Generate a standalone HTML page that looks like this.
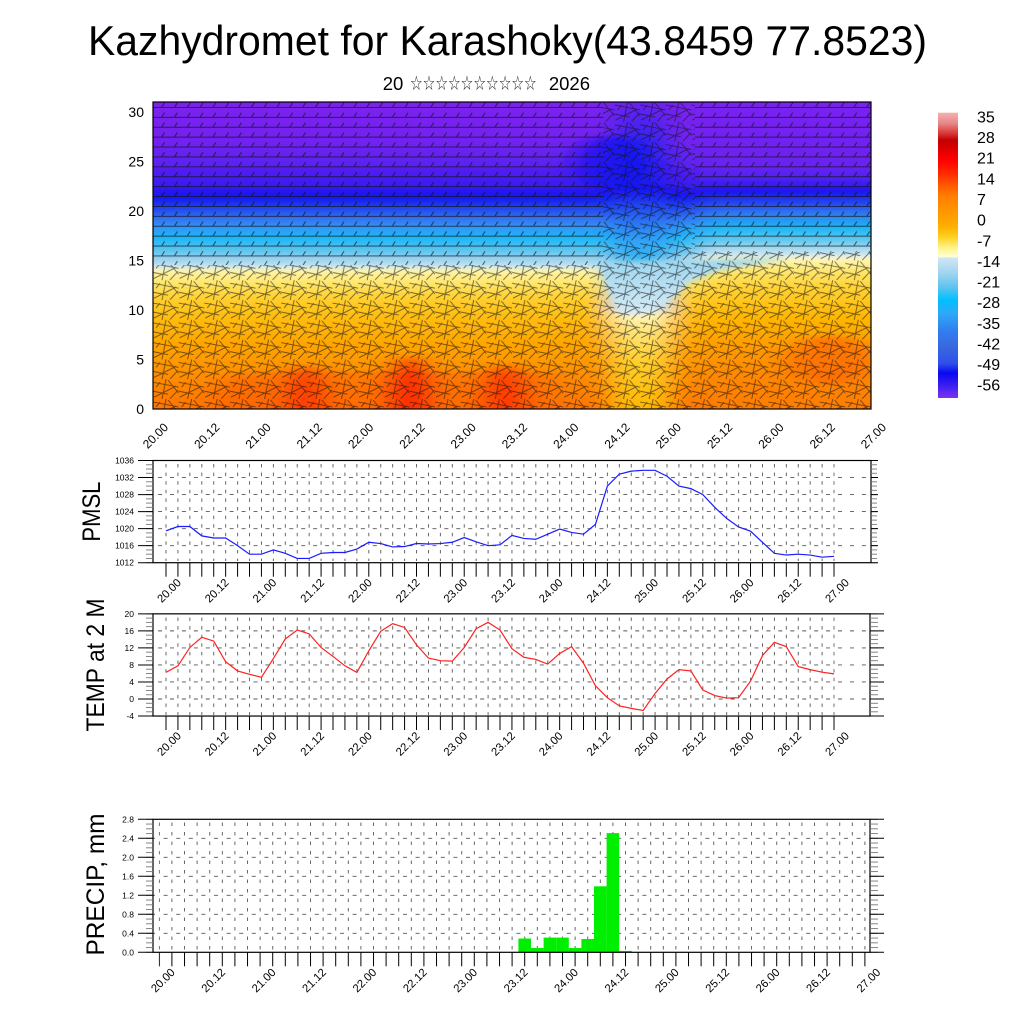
<!DOCTYPE html>
<html><head><meta charset="utf-8"><style>html,body{margin:0;padding:0;background:#fff}svg{display:block}</style></head>
<body>
<svg width="1024" height="1024" viewBox="0 0 1024 1024" xmlns="http://www.w3.org/2000/svg" font-family="'Liberation Sans', Arial, sans-serif">
<defs>
<linearGradient id="gL" gradientUnits="userSpaceOnUse" x1="0" y1="102" x2="0" y2="409">
<stop offset="0" stop-color="#7c24ee"/><stop offset="0.124" stop-color="#7222f0"/><stop offset="0.205" stop-color="#5a20f0"/>
<stop offset="0.27" stop-color="#3a1cf0"/><stop offset="0.309" stop-color="#1414f0"/><stop offset="0.342" stop-color="#2040ec"/>
<stop offset="0.378" stop-color="#3070f0"/><stop offset="0.41" stop-color="#3098f8"/><stop offset="0.443" stop-color="#18b8f8"/>
<stop offset="0.482" stop-color="#58c4f0"/><stop offset="0.515" stop-color="#a0d4f0"/><stop offset="0.538" stop-color="#c8e6f4"/>
<stop offset="0.545" stop-color="#fff6b0"/><stop offset="0.586" stop-color="#ffe870"/><stop offset="0.638" stop-color="#ffd030"/>
<stop offset="0.704" stop-color="#ffbc10"/><stop offset="0.792" stop-color="#ffa400"/><stop offset="0.889" stop-color="#ff8e00"/>
<stop offset="1" stop-color="#ff7400"/>
</linearGradient>
<linearGradient id="gR" gradientUnits="userSpaceOnUse" x1="0" y1="102" x2="0" y2="409">
<stop offset="0" stop-color="#7a22f0"/><stop offset="0.205" stop-color="#6a22f0"/><stop offset="0.254" stop-color="#4a20f0"/>
<stop offset="0.293" stop-color="#1a14f0"/><stop offset="0.336" stop-color="#2850ec"/><stop offset="0.368" stop-color="#3080f0"/>
<stop offset="0.411" stop-color="#18b8f8"/><stop offset="0.45" stop-color="#60c8f0"/><stop offset="0.482" stop-color="#b0dcf2"/>
<stop offset="0.5" stop-color="#d0e8f4"/><stop offset="0.508" stop-color="#fff8c0"/><stop offset="0.547" stop-color="#ffe870"/>
<stop offset="0.612" stop-color="#ffd030"/><stop offset="0.71" stop-color="#ffb400"/><stop offset="0.808" stop-color="#ff9800"/>
<stop offset="0.906" stop-color="#ff8600"/><stop offset="1" stop-color="#ff7c00"/>
</linearGradient>
<linearGradient id="gM" gradientUnits="userSpaceOnUse" x1="0" y1="102" x2="0" y2="409">
<stop offset="0" stop-color="#6a24f0"/><stop offset="0.075" stop-color="#4a20f0"/><stop offset="0.156" stop-color="#2222f0"/>
<stop offset="0.287" stop-color="#1818f0"/><stop offset="0.368" stop-color="#2860f0"/><stop offset="0.45" stop-color="#30a0f8"/>
<stop offset="0.52" stop-color="#30b8f0"/><stop offset="0.596" stop-color="#88d0f0"/><stop offset="0.661" stop-color="#c0e2f4"/>
<stop offset="0.68" stop-color="#d8ecf4"/><stop offset="0.69" stop-color="#fff8c0"/><stop offset="0.74" stop-color="#ffe880"/>
<stop offset="0.84" stop-color="#ffd030"/><stop offset="1" stop-color="#ffb800"/>
</linearGradient>
<linearGradient id="gW" gradientUnits="userSpaceOnUse" x1="0" y1="256" x2="0" y2="314">
<stop offset="0" stop-color="#98d4f0"/><stop offset="1" stop-color="#d6eaf4"/>
</linearGradient>
<linearGradient id="gCB" gradientUnits="userSpaceOnUse" x1="0" y1="112.7" x2="0" y2="398">
<stop offset="0" stop-color="#f6b0b0"/><stop offset="0.037" stop-color="#e88888"/><stop offset="0.072" stop-color="#d83838"/>
<stop offset="0.096" stop-color="#c00000"/><stop offset="0.131" stop-color="#e00000"/><stop offset="0.166" stop-color="#ff0000"/>
<stop offset="0.212" stop-color="#ff2800"/><stop offset="0.247" stop-color="#ff5000"/><stop offset="0.294" stop-color="#ff8000"/>
<stop offset="0.353" stop-color="#ff9800"/><stop offset="0.4" stop-color="#ffb000"/><stop offset="0.435" stop-color="#ffd020"/>
<stop offset="0.47" stop-color="#fff080"/><stop offset="0.505" stop-color="#ffffd8"/><stop offset="0.509" stop-color="#d0e6f4"/>
<stop offset="0.563" stop-color="#a0d4ee"/><stop offset="0.61" stop-color="#60c4f0"/><stop offset="0.657" stop-color="#00c0ff"/>
<stop offset="0.703" stop-color="#30a8f8"/><stop offset="0.762" stop-color="#3080f0"/><stop offset="0.82" stop-color="#3868e0"/>
<stop offset="0.878" stop-color="#3050e8"/><stop offset="0.913" stop-color="#0808f0"/><stop offset="0.96" stop-color="#4020f0"/>
<stop offset="1" stop-color="#8030f0"/>
</linearGradient>
<clipPath id="cTop"><rect x="153" y="102" width="718" height="307"/></clipPath>
<filter id="bl" x="-10%" y="-10%" width="120%" height="120%"><feGaussianBlur stdDeviation="13 2"/></filter>
<filter id="bl2" x="-10%" y="-10%" width="120%" height="120%"><feGaussianBlur stdDeviation="3"/></filter>
<pattern id="pA" x="153" y="102" width="12.82" height="9.9" patternUnits="userSpaceOnUse">
<path d="M0 5.5H12.82M8.5 5.5L11.5 0.8" stroke="#111" stroke-width="1" fill="none"/></pattern>
<pattern id="pB" x="153" y="102" width="25.64" height="19.8" patternUnits="userSpaceOnUse">
<path d="M0 3L25.64 8M1 18L23 7M9 19.8L13 0M0 12L15 15M15 1L25.64 14M17 19.5L25 11M3 8L7 3" stroke="#111" stroke-width="0.9" fill="none"/></pattern>
<pattern id="xt1" x="165.5" y="0" width="11.929" height="30" patternUnits="userSpaceOnUse"><rect x="0" y="0" width="1" height="30" fill="#000"/></pattern>
<pattern id="xt2" x="158.8" y="0" width="12.6" height="30" patternUnits="userSpaceOnUse"><rect x="0" y="0" width="1" height="30" fill="#000"/></pattern>
<pattern id="vgP" x="165.55" y="464" width="11.929" height="8.6" patternUnits="userSpaceOnUse"><rect x="0" y="0" width="0.9" height="3.5" fill="#555"/></pattern>
<pattern id="vgT" x="165.55" y="617.5" width="11.929" height="8.6" patternUnits="userSpaceOnUse"><rect x="0" y="0" width="0.9" height="3.5" fill="#555"/></pattern>
<pattern id="vgR" x="158.85" y="822.5" width="12.6" height="9.5" patternUnits="userSpaceOnUse"><rect x="0" y="0" width="0.9" height="3.5" fill="#555"/></pattern>
<pattern id="mtP" x="0" y="460.05" width="20" height="4.258" patternUnits="userSpaceOnUse"><rect x="0" y="0" width="20" height="0.9" fill="#777"/></pattern>
<pattern id="mtT" x="0" y="613.4" width="20" height="4.258" patternUnits="userSpaceOnUse"><rect x="0" y="0" width="20" height="0.9" fill="#777"/></pattern>
<pattern id="mtR" x="0" y="818.85" width="20" height="4.75" patternUnits="userSpaceOnUse"><rect x="0" y="0" width="20" height="0.9" fill="#777"/></pattern>
</defs>

<rect width="1024" height="1024" fill="#fff"/>

<!-- Titles -->
<text x="507.5" y="55" font-size="42" text-anchor="middle" textLength="839" lengthAdjust="spacingAndGlyphs">Kazhydromet for Karashoky(43.8459 77.8523)</text>
<text x="382.7" y="90" font-size="18.5">20</text>
<text x="410" y="90" font-size="20" font-family="'DejaVu Sans', sans-serif" fill="#222" textLength="126.7" lengthAdjust="spacingAndGlyphs">☆☆☆☆☆☆☆☆☆☆</text>
<text x="590" y="90" font-size="18.5" text-anchor="end">2026</text>

<!-- Top panel -->
<g clip-path="url(#cTop)">
 <g filter="url(#bl)">
  <rect x="120" y="80" width="790" height="350" fill="url(#gL)"/>
  <rect x="250" y="372" width="310" height="50" fill="#ff6000" opacity="0.45"/>
  <ellipse cx="240" cy="400" rx="30" ry="25" fill="#ff6000" opacity="0.6"/>
  <ellipse cx="305" cy="405" rx="22" ry="40" fill="#ff3c00"/>
  <ellipse cx="410" cy="400" rx="22" ry="45" fill="#ff2800"/>
  <ellipse cx="505" cy="402" rx="22" ry="38" fill="#ff3800"/>
  <rect x="700" y="80" width="210" height="350" fill="url(#gR)"/>
  <rect x="612" y="80" width="56" height="350" fill="url(#gM)"/>
  <ellipse cx="610" cy="163" rx="38" ry="28" fill="#1010f0" opacity="0.7"/>
  <ellipse cx="830" cy="360" rx="45" ry="25" fill="#ff6800" opacity="0.7"/>
 </g>
 <g filter="url(#bl2)">
  <polygon points="598,262 790,258 720,270 690,282 662,308 640,314 620,314 612,298 604,280" fill="url(#gW)"/>
 </g>
 <rect x="153" y="102" width="450" height="163" fill="url(#pA)" opacity="0.68"/>
 <rect x="695" y="102" width="176" height="150" fill="url(#pA)" opacity="0.68"/>
 <rect x="153" y="265" width="718" height="144" fill="url(#pB)" opacity="0.6"/>
 <rect x="603" y="102" width="92" height="163" fill="url(#pB)" opacity="0.6"/>
 <rect x="695" y="252" width="176" height="13" fill="url(#pB)" opacity="0.6"/>
</g>
<rect x="153" y="102" width="718" height="307" fill="none" stroke="#000" stroke-width="1.2"/>
<g font-size="14" text-anchor="end">
<text x="144" y="414">0</text><text x="144" y="364.5">5</text><text x="144" y="315">10</text>
<text x="144" y="265.5">15</text><text x="144" y="216">20</text><text x="144" y="166.5">25</text><text x="144" y="117">30</text>
</g>
<g font-size="12" text-anchor="end">
<text transform="translate(169,428) rotate(-45)">20.00</text>
<text transform="translate(220.3,428) rotate(-45)">20.12</text>
<text transform="translate(271.6,428) rotate(-45)">21.00</text>
<text transform="translate(322.9,428) rotate(-45)">21.12</text>
<text transform="translate(374.2,428) rotate(-45)">22.00</text>
<text transform="translate(425.5,428) rotate(-45)">22.12</text>
<text transform="translate(476.7,428) rotate(-45)">23.00</text>
<text transform="translate(528,428) rotate(-45)">23.12</text>
<text transform="translate(579.3,428) rotate(-45)">24.00</text>
<text transform="translate(630.6,428) rotate(-45)">24.12</text>
<text transform="translate(681.9,428) rotate(-45)">25.00</text>
<text transform="translate(733.2,428) rotate(-45)">25.12</text>
<text transform="translate(784.5,428) rotate(-45)">26.00</text>
<text transform="translate(835.8,428) rotate(-45)">26.12</text>
<text transform="translate(887,428) rotate(-45)">27.00</text>
</g>

<!-- Colorbar -->
<rect x="938" y="112.7" width="20" height="285.3" fill="url(#gCB)"/>
<g font-size="16">
<text x="977" y="122.4">35</text><text x="977" y="143">28</text><text x="977" y="163.7">21</text>
<text x="977" y="184.3">14</text><text x="977" y="205">7</text><text x="977" y="225.6">0</text>
<text x="977" y="246.3">-7</text><text x="977" y="266.9">-14</text><text x="977" y="287.5">-21</text>
<text x="977" y="308.2">-28</text><text x="977" y="328.8">-35</text><text x="977" y="349.5">-42</text>
<text x="977" y="370.1">-49</text><text x="977" y="390.7">-56</text>
</g>

<!-- PMSL panel -->
<rect x="165.5" y="462" width="669" height="99" fill="url(#vgP)"/>
<g stroke="#555" stroke-width="0.9" stroke-dasharray="4 7.929" stroke-dashoffset="6.86">
<line x1="153" y1="545.67" x2="871" y2="545.67"/><line x1="153" y1="528.64" x2="871" y2="528.64"/>
<line x1="153" y1="511.6" x2="871" y2="511.6"/><line x1="153" y1="494.57" x2="871" y2="494.57"/>
<line x1="153" y1="477.54" x2="871" y2="477.54"/>
</g>
<polyline fill="none" stroke="#1a1aff" stroke-width="1.2" vector-effect="non-scaling-stroke" transform="translate(166 562.7) scale(11.929 -4.258)"
points="0,7.5 1,8.5 2,8.5 3,6.3 4,5.8 5,5.8 6,4 7,2 8,2 9,3 10,2.2 11,1 12,1 13,2.2 14,2.4 15,2.4 16,3.2 17,4.8 18,4.5 19,3.7 20,3.8 21,4.5 22,4.4 23,4.5 24,4.8 25,5.9 26,4.9 27,4 28,4.2 29,6.4 30,5.7 31,5.5 32,6.7 33,7.9 34,7.1 35,6.7 36,9 37,18 38,20.8 39,21.5 40,21.7 41,21.7 42,20.3 43,18 44,17.4 45,16 46,13 47,10.4 48,8.4 49,7.4 50,4.8 51,2.2 52,1.8 53,2 54,1.8 55,1.3 56,1.5"/>
<rect x="153" y="460.5" width="718" height="102.2" fill="none" stroke="#000" stroke-width="1.2"/>
<rect x="165.5" y="562.7" width="669" height="14" fill="url(#xt1)"/>
<rect x="146" y="460" width="7" height="103.5" fill="url(#mtP)"/>
<rect x="871" y="460" width="6" height="103.5" fill="url(#mtP)"/>
<g stroke="#000" stroke-width="1">
<path d="M138 562.7H153M138 545.67H153M138 528.64H153M138 511.6H153M138 494.57H153M138 477.54H153M138 460.5H153"/>
<path d="M871 562.7H878M871 545.67H878M871 528.64H878M871 511.6H878M871 494.57H878M871 477.54H878M871 460.5H878"/>
</g>
<g font-size="8.5" text-anchor="end">
<text x="134" y="565.7">1012</text><text x="134" y="548.7">1016</text><text x="134" y="531.6">1020</text>
<text x="134" y="514.6">1024</text><text x="134" y="497.6">1028</text><text x="134" y="480.5">1032</text><text x="134" y="463.5">1036</text>
</g>
<text transform="translate(100,511.6) rotate(-90)" font-size="25" text-anchor="middle" textLength="60" lengthAdjust="spacingAndGlyphs">PMSL</text>
<g font-size="11.3" text-anchor="end">
<text transform="translate(181.8,583.3) rotate(-45)">20.00</text>
<text transform="translate(229.5,583.3) rotate(-45)">20.12</text>
<text transform="translate(277.2,583.3) rotate(-45)">21.00</text>
<text transform="translate(325,583.3) rotate(-45)">21.12</text>
<text transform="translate(372.7,583.3) rotate(-45)">22.00</text>
<text transform="translate(420.4,583.3) rotate(-45)">22.12</text>
<text transform="translate(468.1,583.3) rotate(-45)">23.00</text>
<text transform="translate(515.8,583.3) rotate(-45)">23.12</text>
<text transform="translate(563.5,583.3) rotate(-45)">24.00</text>
<text transform="translate(611.2,583.3) rotate(-45)">24.12</text>
<text transform="translate(659,583.3) rotate(-45)">25.00</text>
<text transform="translate(706.7,583.3) rotate(-45)">25.12</text>
<text transform="translate(754.4,583.3) rotate(-45)">26.00</text>
<text transform="translate(802.1,583.3) rotate(-45)">26.12</text>
<text transform="translate(849.8,583.3) rotate(-45)">27.00</text>
</g>

<!-- TEMP panel -->
<rect x="165.5" y="615" width="669" height="100" fill="url(#vgT)"/>
<g stroke="#555" stroke-width="0.9" stroke-dasharray="4 7.929" stroke-dashoffset="6.86">
<line x1="153" y1="699" x2="870" y2="699"/><line x1="153" y1="681.97" x2="870" y2="681.97"/>
<line x1="153" y1="664.94" x2="870" y2="664.94"/><line x1="153" y1="647.9" x2="870" y2="647.9"/>
<line x1="153" y1="630.87" x2="870" y2="630.87"/>
</g>
<polyline fill="none" stroke="#ff2020" stroke-width="1.2" vector-effect="non-scaling-stroke" transform="translate(166 699) scale(11.929 -4.258)"
points="0,6.25 1,7.8 2,12.1 3,14.5 4,13.6 5,8.75 6,6.6 7,5.8 8,5.1 9,9.5 10,14.1 11,16.2 12,15.3 13,12.1 14,10 15,7.8 16,6.25 17,11.3 18,15.9 19,17.7 20,16.8 21,12.7 22,9.6 23,9 24,8.9 25,12.1 26,16.5 27,18 28,16.2 29,11.8 30,9.8 31,9.3 32,8.2 33,10.7 34,12.3 35,8.4 36,3.1 37,0.3 38,-1.6 39,-2.2 40,-2.7 41,1.3 42,4.7 43,6.9 44,6.6 45,2.1 46,0.8 47,0.2 48,0.3 49,4.2 50,10.2 51,13.3 52,12.3 53,7.6 54,6.9 55,6.3 56,5.9"/>
<rect x="153" y="613.84" width="717" height="102.2" fill="none" stroke="#000" stroke-width="1.2"/>
<rect x="165.5" y="716" width="669" height="14" fill="url(#xt1)"/>
<rect x="146" y="613" width="7" height="103.5" fill="url(#mtT)"/>
<rect x="870" y="613" width="8" height="103.5" fill="url(#mtT)"/>
<g stroke="#000" stroke-width="1">
<path d="M138 716.03H153M138 699H153M138 681.97H153M138 664.94H153M138 647.9H153M138 630.87H153M138 613.84H153"/>
<path d="M870 716.03H884M870 699H884M870 681.97H884M870 664.94H884M870 647.9H884M870 630.87H884M870 613.84H884"/>
</g>
<g font-size="8.5" text-anchor="end">
<text x="134" y="719">-4</text><text x="134" y="702">0</text><text x="134" y="685">4</text>
<text x="134" y="668">8</text><text x="134" y="651">12</text><text x="134" y="633.9">16</text><text x="134" y="616.8">20</text>
</g>
<text transform="translate(104,665) rotate(-90)" font-size="25" text-anchor="middle" textLength="133" lengthAdjust="spacingAndGlyphs">TEMP at 2 M</text>
<g font-size="11.3" text-anchor="end">
<text transform="translate(181.8,736.5) rotate(-45)">20.00</text>
<text transform="translate(229.5,736.5) rotate(-45)">20.12</text>
<text transform="translate(277.2,736.5) rotate(-45)">21.00</text>
<text transform="translate(325,736.5) rotate(-45)">21.12</text>
<text transform="translate(372.7,736.5) rotate(-45)">22.00</text>
<text transform="translate(420.4,736.5) rotate(-45)">22.12</text>
<text transform="translate(468.1,736.5) rotate(-45)">23.00</text>
<text transform="translate(515.8,736.5) rotate(-45)">23.12</text>
<text transform="translate(563.5,736.5) rotate(-45)">24.00</text>
<text transform="translate(611.2,736.5) rotate(-45)">24.12</text>
<text transform="translate(659,736.5) rotate(-45)">25.00</text>
<text transform="translate(706.7,736.5) rotate(-45)">25.12</text>
<text transform="translate(754.4,736.5) rotate(-45)">26.00</text>
<text transform="translate(802.1,736.5) rotate(-45)">26.12</text>
<text transform="translate(849.8,736.5) rotate(-45)">27.00</text>
</g>

<!-- PRECIP panel -->
<rect x="158.8" y="821" width="707" height="130" fill="url(#vgR)"/>
<g stroke="#555" stroke-width="0.9" stroke-dasharray="4 8.6" stroke-dashoffset="2">
<line x1="153" y1="933.3" x2="870" y2="933.3"/><line x1="153" y1="914.3" x2="870" y2="914.3"/>
<line x1="153" y1="895.3" x2="870" y2="895.3"/><line x1="153" y1="876.3" x2="870" y2="876.3"/>
<line x1="153" y1="857.3" x2="870" y2="857.3"/><line x1="153" y1="838.3" x2="870" y2="838.3"/>
</g>
<g fill="#00ee00">
<rect x="518.4" y="938.5" width="12.6" height="13.8"/>
<rect x="531" y="948" width="12.6" height="4.3"/>
<rect x="543.6" y="937.6" width="12.6" height="14.7"/>
<rect x="556.2" y="937.6" width="12.6" height="14.7"/>
<rect x="568.8" y="948" width="12.6" height="4.3"/>
<rect x="581.4" y="939" width="12.6" height="13.3"/>
<rect x="594" y="886.3" width="12.6" height="66"/>
<rect x="606.6" y="833.1" width="12.6" height="119.2"/>
<rect x="619.2" y="950.9" width="12.6" height="1.4"/>
</g>
<rect x="153" y="819.3" width="717" height="133" fill="none" stroke="#000" stroke-width="1.2"/>
<rect x="158.8" y="952.3" width="707" height="14" fill="url(#xt2)"/>
<rect x="146" y="818.5" width="7" height="134.5" fill="url(#mtR)"/>
<rect x="870" y="818.5" width="8" height="134.5" fill="url(#mtR)"/>
<g stroke="#000" stroke-width="1">
<path d="M138 952.3H153M138 933.3H153M138 914.3H153M138 895.3H153M138 876.3H153M138 857.3H153M138 838.3H153M138 819.3H153"/>
<path d="M870 952.3H884M870 933.3H884M870 914.3H884M870 895.3H884M870 876.3H884M870 857.3H884M870 838.3H884M870 819.3H884"/>
</g>
<g font-size="8.5" text-anchor="end">
<text x="134" y="955.3">0.0</text><text x="134" y="936.3">0.4</text><text x="134" y="917.3">0.8</text>
<text x="134" y="898.3">1.2</text><text x="134" y="879.3">1.6</text><text x="134" y="860.3">2.0</text>
<text x="134" y="841.3">2.4</text><text x="134" y="822.3">2.8</text>
</g>
<text transform="translate(104,884.5) rotate(-90)" font-size="25" text-anchor="middle" textLength="142" lengthAdjust="spacingAndGlyphs">PRECIP, mm</text>
<g font-size="11.3" text-anchor="end">
<text transform="translate(175.6,973) rotate(-45)">20.00</text>
<text transform="translate(226,973) rotate(-45)">20.12</text>
<text transform="translate(276.4,973) rotate(-45)">21.00</text>
<text transform="translate(326.8,973) rotate(-45)">21.12</text>
<text transform="translate(377.2,973) rotate(-45)">22.00</text>
<text transform="translate(427.6,973) rotate(-45)">22.12</text>
<text transform="translate(478,973) rotate(-45)">23.00</text>
<text transform="translate(528.4,973) rotate(-45)">23.12</text>
<text transform="translate(578.8,973) rotate(-45)">24.00</text>
<text transform="translate(629.2,973) rotate(-45)">24.12</text>
<text transform="translate(679.6,973) rotate(-45)">25.00</text>
<text transform="translate(730,973) rotate(-45)">25.12</text>
<text transform="translate(780.4,973) rotate(-45)">26.00</text>
<text transform="translate(830.8,973) rotate(-45)">26.12</text>
<text transform="translate(881.2,973) rotate(-45)">27.00</text>
</g>
</svg>
</body></html>
